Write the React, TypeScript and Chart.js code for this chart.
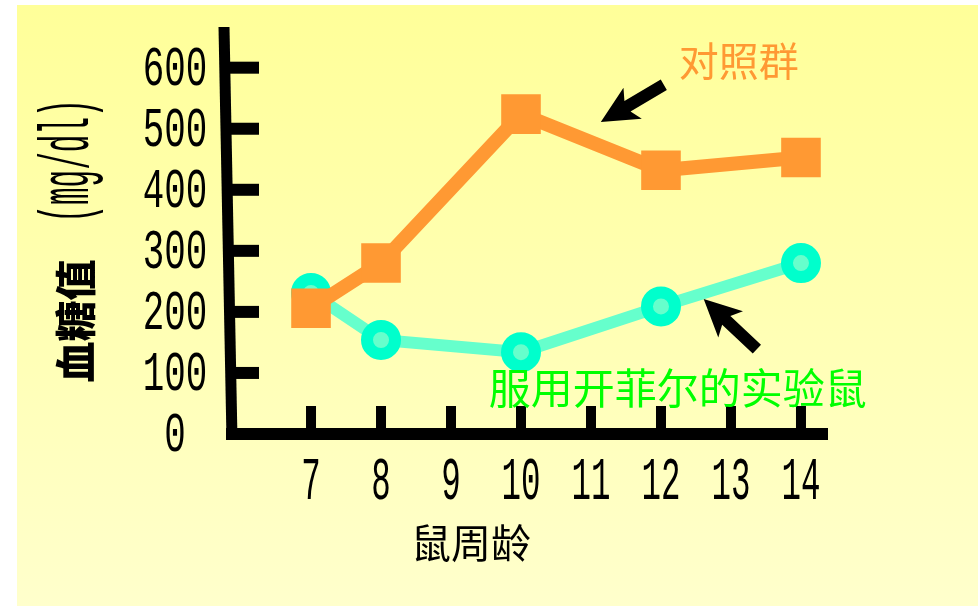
import React, { useEffect, useRef } from "react";
import { Chart, registerables } from "chart.js";

Chart.register(...registerables);

// ---- data ----
const WEEKS = [7, 8, 10, 12, 14];
const CONTROL = [206, 280, 524, 432, 453];
const KEFIR = [231, 154, 134, 209, 280];
const X_TICKS = [7, 8, 9, 10, 11, 12, 13, 14];
const Y_TICKS = [100, 200, 300, 400, 500, 600];
const Y_LABELS = [0, 100, 200, 300, 400, 500, 600];
const SERIES_NAMES = ["对照群", "服用开菲尔的实验鼠"];
const X_TITLE = "鼠周龄";
const Y_TITLE_MAIN = "血糖值";
const Y_TITLE_UNIT = "(mg/dl)";
// annotation anchors in data coordinates
const LABEL_ANCHORS = [
  [13.11, 612],
  [12.24, 75],
];
const ARROWS = [
  [12.04, 572, 11.14, 511],
  [13.37, 139, 12.61, 221],
];

const MONO = '"Liberation Mono", "DejaVu Sans Mono", monospace';
const CJK = '"Noto Sans CJK SC", "Noto Sans CJK JP", sans-serif';

function condensed(
  ctx: CanvasRenderingContext2D,
  text: string,
  cx: number,
  cy: number,
  digitH: number,
  pitch: number
) {
  ctx.save();
  ctx.font = `100px ${MONO}`;
  const m = ctx.measureText("0");
  const asc = m.actualBoundingBoxAscent || 70;
  const size = (digitH / asc) * 100;
  ctx.font = `${size}px ${MONO}`;
  const adv = ctx.measureText("0").width || size * 0.6;
  const sx = pitch / adv;
  ctx.translate(cx, cy);
  ctx.scale(sx, 1);
  ctx.textAlign = "center";
  ctx.textBaseline = "alphabetic";
  ctx.fillStyle = "#000";
  ctx.fillText(text, 0, digitH / 2);
  ctx.restore();
}

function drawArrow(
  ctx: CanvasRenderingContext2D,
  x0: number,
  y0: number,
  x1: number,
  y1: number
) {
  const ang = Math.atan2(y1 - y0, x1 - x0);
  const len = Math.hypot(x1 - x0, y1 - y0);
  ctx.save();
  ctx.translate(x1, y1);
  ctx.rotate(ang);
  ctx.beginPath();
  ctx.moveTo(0, 0);
  ctx.lineTo(-37, -18);
  ctx.lineTo(-31, -6);
  ctx.lineTo(-len, -6);
  ctx.lineTo(-len, 6);
  ctx.lineTo(-31, 6);
  ctx.lineTo(-37, 18);
  ctx.closePath();
  ctx.fillStyle = "#000";
  ctx.fill();
  ctx.restore();
}

const deco = {
  id: "deco",
  beforeDraw(chart: any) {
    const { ctx, width, height } = chart;
    ctx.save();
    ctx.fillStyle = "#ffffff";
    ctx.fillRect(0, 0, width, height);
    const g = ctx.createLinearGradient(0, 5, 0, height);
    g.addColorStop(0, "#FFFF99");
    g.addColorStop(1, "#FFFFCC");
    ctx.fillStyle = g;
    ctx.fillRect(17, 5, width - 17, height - 5);
    ctx.restore();
  },
  beforeDatasetsDraw(chart: any) {
    const { ctx, chartArea } = chart;
    const xs = chart.scales.x;
    const ys = chart.scales.y;
    const L = chartArea.left;
    const B = chartArea.bottom;
    ctx.save();
    ctx.fillStyle = "#000";
    ctx.strokeStyle = "#000";
    // y axis (slightly slanted like the original)
    ctx.lineWidth = 11;
    ctx.lineCap = "butt";
    ctx.beginPath();
    ctx.moveTo(L - 4, chartArea.top - 1);
    ctx.lineTo(L + 4, B + 6);
    ctx.stroke();
    // x axis
    ctx.fillRect(L - 2, B - 6, chartArea.right - L + 2, 12);
    // y tick marks
    Y_TICKS.forEach((v) => {
      const y = ys.getPixelForValue(v);
      ctx.fillRect(L, y - 6, 31, 12);
    });
    // x tick marks
    X_TICKS.forEach((v) => {
      const x = xs.getPixelForValue(v);
      ctx.fillRect(x - 5, B - 28, 10, 28);
    });
    ctx.restore();
  },
  afterDraw(chart: any) {
    const { ctx, chartArea } = chart;
    const xs = chart.scales.x;
    const ys = chart.scales.y;
    // y tick labels
    Y_LABELS.forEach((v) => {
      const y = ys.getPixelForValue(v);
      condensed(ctx, String(v), chartArea.left - 53, y - 2, 38, 21.5);
    });
    // x tick labels
    X_TICKS.forEach((v) => {
      const x = xs.getPixelForValue(v);
      condensed(ctx, String(v), x, chartArea.bottom + 44, 41, 19.5);
    });
    // x title
    ctx.save();
    ctx.font = `40px ${CJK}`;
    ctx.fillStyle = "#000";
    ctx.textAlign = "center";
    ctx.textBaseline = "middle";
    ctx.fillText(X_TITLE, xs.getPixelForValue(9.285), chartArea.bottom + 109);
    ctx.restore();
    // y title (rotated)
    ctx.save();
    ctx.translate(73, 241);
    ctx.rotate(-Math.PI / 2);
    ctx.font = `900 41px ${CJK}`;
    ctx.fillStyle = "#000";
    ctx.textAlign = "center";
    ctx.textBaseline = "middle";
    ctx.fillText(Y_TITLE_MAIN, -80, 2);
    condensed(ctx, Y_TITLE_UNIT, 80, 0, 29, 17.6);
    ctx.restore();
    // arrows
    ARROWS.forEach(([a, b, c, d]) => {
      drawArrow(
        ctx,
        xs.getPixelForValue(a),
        ys.getPixelForValue(b),
        xs.getPixelForValue(c),
        ys.getPixelForValue(d)
      );
    });
    // series annotations
    const colors = ["#FF9933", "#00FF00"];
    const sizes = [40, 42];
    SERIES_NAMES.forEach((name, i) => {
      ctx.save();
      ctx.font = `${sizes[i]}px ${CJK}`;
      ctx.fillStyle = colors[i];
      ctx.textAlign = "center";
      ctx.textBaseline = "middle";
      ctx.fillText(
        name,
        xs.getPixelForValue(LABEL_ANCHORS[i][0]),
        ys.getPixelForValue(LABEL_ANCHORS[i][1])
      );
      ctx.restore();
    });
  },
};

export default function App() {
  const ref = useRef<HTMLCanvasElement | null>(null);
  useEffect(() => {
    document.body.style.margin = "0";
    const canvas = ref.current;
    if (!canvas) return;
    const chart = new Chart(canvas, {
      type: "line",
      data: {
        datasets: [
          {
            label: SERIES_NAMES[0],
            data: WEEKS.map((w, i) => ({ x: w, y: CONTROL[i] })),
            borderColor: "#FF9933",
            borderWidth: 14,
            pointStyle: "rect",
            pointRadius: 28,
            pointBorderWidth: 0,
            pointBackgroundColor: "#FF9933",
            pointBorderColor: "#FF9933",
            clip: false,
            tension: 0,
          } as any,
          {
            label: SERIES_NAMES[1],
            data: WEEKS.map((w, i) => ({ x: w, y: KEFIR[i] })),
            borderColor: "#66FFCC",
            borderWidth: 12,
            pointStyle: "circle",
            pointRadius: 14,
            pointBorderWidth: 12,
            pointBackgroundColor: "#66FFCC",
            pointBorderColor: "#00FFCC",
            clip: false,
            tension: 0,
          } as any,
        ],
      },
      options: {
        animation: false,
        responsive: false,
        devicePixelRatio: 1,
        layout: { padding: { left: 228, right: 150, top: 28, bottom: 172 } },
        scales: {
          x: { type: "linear", min: 5.814, max: 14.386, display: false },
          y: { type: "linear", min: 0, max: 665, display: false },
        },
        plugins: {
          legend: { display: false },
          tooltip: { enabled: false },
        },
        events: [],
      },
      plugins: [deco],
    });
    return () => chart.destroy();
  }, []);
  return (
    <div style={{ position: "fixed", left: 0, top: 0, width: 978, height: 606 }}>
      <canvas ref={ref} width={978} height={606} style={{ display: "block" }} />
    </div>
  );
}
